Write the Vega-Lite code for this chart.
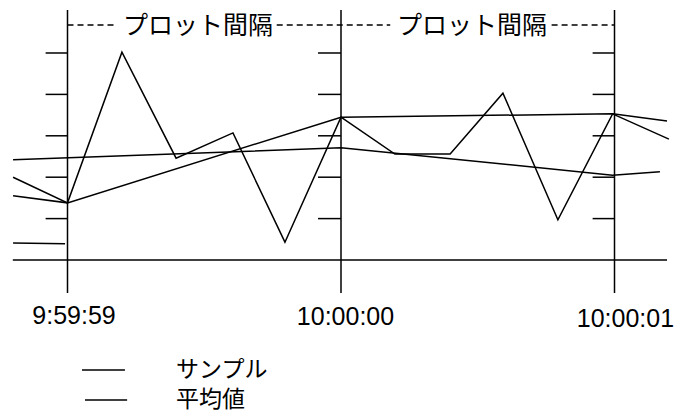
{
  "$schema": "https://vega.github.io/schema/vega-lite/v6.json",
  "width": 677,
  "height": 416,
  "padding": 0,
  "autosize": {"type": "fit", "contains": "padding"},
  "background": "white",
  "config": {"view": {"stroke": null}},
  "datasets": {
    "segs": [
      {"x1": -1, "x2": -1, "y1": -0.797, "y2": 6.039},
      {"x1": 0, "x2": 0, "y1": -0.797, "y2": 6.039},
      {"x1": 1, "x2": 1, "y1": -0.797, "y2": 6.039},
      {"x1": -1.2, "x2": 1.192, "y1": 0, "y2": 0},
      {"x1": -1.08, "x2": -1, "y1": 1, "y2": 1},
      {"x1": -1.08, "x2": -1, "y1": 2, "y2": 2},
      {"x1": -1.08, "x2": -1, "y1": 3, "y2": 3},
      {"x1": -1.08, "x2": -1, "y1": 4, "y2": 4},
      {"x1": -1.08, "x2": -1, "y1": 5, "y2": 5},
      {"x1": -0.084, "x2": 0, "y1": 1, "y2": 1},
      {"x1": -0.084, "x2": 0, "y1": 2, "y2": 2},
      {"x1": -0.084, "x2": 0, "y1": 3, "y2": 3},
      {"x1": -0.084, "x2": 0, "y1": 4, "y2": 4},
      {"x1": -0.084, "x2": 0, "y1": 5, "y2": 5},
      {"x1": 0.92, "x2": 1, "y1": 1, "y2": 1},
      {"x1": 0.92, "x2": 1, "y1": 2, "y2": 2},
      {"x1": 0.92, "x2": 1, "y1": 3, "y2": 3},
      {"x1": 0.92, "x2": 1, "y1": 4, "y2": 4},
      {"x1": 0.92, "x2": 1, "y1": 5, "y2": 5},
      {"x1": -0.947, "x2": -0.79, "y1": -2.657, "y2": -2.657},
      {"x1": -0.936, "x2": -0.782, "y1": -3.382, "y2": -3.382}
    ],
    "dash": [
      {"x1": -1, "x2": -0.82, "y": 5.676},
      {"x1": -0.235, "x2": 0.18, "y": 5.676},
      {"x1": 0.77, "x2": 1.0, "y": 5.676}
    ],
    "series": [
      {"series": "sample", "t": -1.199, "u": 2.0},
      {"series": "sample", "t": -1.0, "u": 1.38},
      {"series": "sample", "t": -0.801, "u": 5.02},
      {"series": "sample", "t": -0.603, "u": 2.46},
      {"series": "sample", "t": -0.395, "u": 3.07},
      {"series": "sample", "t": -0.205, "u": 0.43},
      {"series": "sample", "t": 0.0, "u": 3.45},
      {"series": "sample", "t": 0.197, "u": 2.56},
      {"series": "sample", "t": 0.399, "u": 2.56},
      {"series": "sample", "t": 0.592, "u": 4.03},
      {"series": "sample", "t": 0.793, "u": 0.97},
      {"series": "sample", "t": 0.993, "u": 3.53},
      {"series": "sample", "t": 1.199, "u": 2.92},
      {"series": "avg1", "t": -1.199, "u": 2.42},
      {"series": "avg1", "t": 0.0, "u": 2.71},
      {"series": "avg1", "t": 0.993, "u": 2.05},
      {"series": "avg1", "t": 1.166, "u": 2.13},
      {"series": "avg2", "t": -1.199, "u": 1.55},
      {"series": "avg2", "t": -1.0, "u": 1.38},
      {"series": "avg2", "t": 0.0, "u": 3.45},
      {"series": "avg2", "t": 0.993, "u": 3.53},
      {"series": "avg2", "t": 1.192, "u": 3.36},
      {"series": "avg3", "t": -1.199, "u": 0.41},
      {"series": "avg3", "t": -1.009, "u": 0.39}
    ],
    "timeLabels": [
      {"label": "9:59:59", "t": -0.976, "u": -1.353},
      {"label": "10:00:00", "t": 0.0165, "u": -1.365},
      {"label": "10:00:01", "t": 1.04, "u": -1.425}
    ],
    "topLabels": [
      {"label": "プロット間隔", "t": -0.523, "u": 5.65},
      {"label": "プロット間隔", "t": 0.479, "u": 5.65}
    ],
    "legendLabels": [
      {"label": "サンプル", "t": -0.603, "u": -2.645},
      {"label": "平均値", "t": -0.603, "u": -3.382}
    ]
  },
  "layer": [
    {
      "data": {"name": "segs"},
      "mark": {"type": "rule", "color": "black", "strokeWidth": 1.5},
      "encoding": {
        "x": {"field": "x1", "type": "quantitative", "scale": {"domain": [-1.2468, 1.2285], "nice": false, "zero": false}, "axis": null},
        "x2": {"field": "x2"},
        "y": {"field": "y1", "type": "quantitative", "scale": {"domain": [-3.768, 6.28], "nice": false, "zero": false}, "axis": null},
        "y2": {"field": "y2"}
      }
    },
    {
      "data": {"name": "dash"},
      "mark": {"type": "rule", "color": "black", "strokeWidth": 1.5, "strokeDash": [6, 4]},
      "encoding": {
        "x": {"field": "x1", "type": "quantitative"},
        "x2": {"field": "x2"},
        "y": {"field": "y", "type": "quantitative"}
      }
    },
    {
      "data": {"name": "series"},
      "mark": {"type": "line", "color": "black", "strokeWidth": 1.5},
      "encoding": {
        "x": {"field": "t", "type": "quantitative"},
        "y": {"field": "u", "type": "quantitative"},
        "detail": {"field": "series"}
      }
    },
    {
      "data": {"name": "timeLabels"},
      "mark": {"type": "text", "font": "Liberation Sans", "fontSize": 25, "color": "black", "align": "center", "baseline": "middle"},
      "encoding": {
        "x": {"field": "t", "type": "quantitative"},
        "y": {"field": "u", "type": "quantitative"},
        "text": {"field": "label"}
      }
    },
    {
      "data": {"name": "topLabels"},
      "mark": {"type": "text", "font": "Noto Sans CJK JP", "fontSize": 25, "color": "black", "align": "center", "baseline": "middle"},
      "encoding": {
        "x": {"field": "t", "type": "quantitative"},
        "y": {"field": "u", "type": "quantitative"},
        "text": {"field": "label"}
      }
    },
    {
      "data": {"name": "legendLabels"},
      "mark": {"type": "text", "font": "Noto Sans CJK JP", "fontSize": 23, "color": "black", "align": "left", "baseline": "middle"},
      "encoding": {
        "x": {"field": "t", "type": "quantitative"},
        "y": {"field": "u", "type": "quantitative"},
        "text": {"field": "label"}
      }
    }
  ]
}
